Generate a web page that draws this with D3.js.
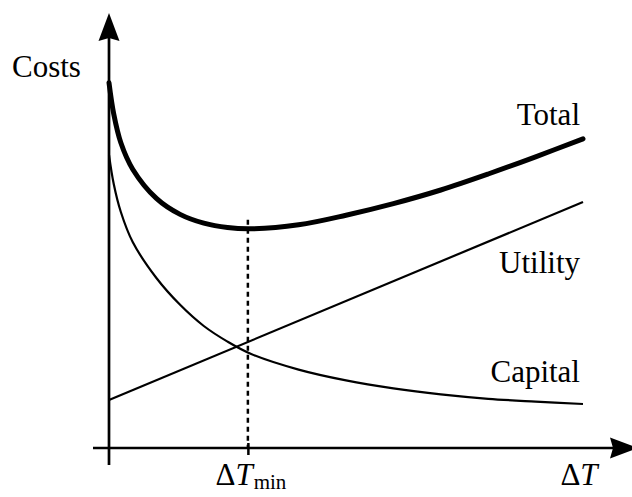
<!DOCTYPE html>
<html>
<head>
<meta charset="utf-8">
<script src="https://cdn.jsdelivr.net/npm/d3@7/dist/d3.min.js"></script>
<style>
  html, body { margin: 0; padding: 0; background: #fff; }
  svg { display: block; }
  text { font-family: "Liberation Serif", "Times New Roman", serif; fill: #000; }
</style>
</head>
<body>
<svg id="chart" width="632" height="497"></svg>
<script>
// Temperature approach (arbitrary units) and the cost curves over it
const deltaT = [0, 0.1, 0.25, 0.5, 1, 1.5, 2, 2.5, 3, 4, 5, 6, 7, 8, 9, 10];
const capitalCost = [7.33, 6.6, 5.9, 5.15, 4.25, 3.58, 3.05, 2.66, 2.35, 1.96, 1.69, 1.49, 1.34, 1.23, 1.16, 1.10];
const totalCost = [9.13, 8.35, 7.63, 6.97, 6.24, 5.84, 5.62, 5.51, 5.48, 5.58, 5.82, 6.11, 6.45, 6.85, 7.28, 7.73];
const utilityT = [0, 10];
const utilityCost = [1.2, 6.15];
const deltaTmin = 2.93;

const seriesLabels = ["Total", "Utility", "Capital"];
const yAxisLabel = "Costs";

const svg = d3.select("#chart");
const W = 632;

const x = d3.scaleLinear().domain([0, 10]).range([109, 583]);
const y = d3.scaleLinear().domain([0, 10]).range([448, 48]);

const x0 = x(0), y0 = y(0);

// Arrowhead shape: tip at origin pointing to +x, slightly hollow back
function arrowPath(len, half, notch) {
  return `M0,0 L${-len},${-half} L${-len + notch},0 L${-len},${half} Z`;
}

// Axes
const axes = svg.append("g");
axes.append("line")
  .attr("x1", x0 - 16).attr("x2", W + 2)
  .attr("y1", y0).attr("y2", y0)
  .attr("stroke", "#000").attr("stroke-width", 2.7);
axes.append("path")
  .attr("d", arrowPath(28, 10.5, 3))
  .attr("transform", `translate(${W + 6},${y0})`)
  .attr("fill", "#000");

axes.append("line")
  .attr("x1", x0).attr("x2", x0)
  .attr("y1", y0 + 17).attr("y2", 20)
  .attr("stroke", "#000").attr("stroke-width", 2.7);
axes.append("path")
  .attr("d", arrowPath(28, 10.5, 3))
  .attr("transform", `translate(${x0},13) rotate(-90)`)
  .attr("fill", "#000");

// ΔTmin tick via a bottom axis with a single tick value
const xAxis = d3.axisBottom(x)
  .tickValues([deltaTmin])
  .tickSizeInner(7)
  .tickSizeOuter(0)
  .tickFormat("");
const gx = svg.append("g")
  .attr("transform", `translate(0,${y0})`)
  .call(xAxis);
gx.select(".domain").remove();
gx.selectAll(".tick line")
  .attr("y1", -5)
  .attr("stroke", "#000")
  .attr("stroke-width", 2.5);

// Dotted guide from the minimum of the total curve down to the axis
const totalAtMin = d3.min(totalCost);
svg.append("line")
  .attr("x1", x(deltaTmin)).attr("x2", x(deltaTmin))
  .attr("y1", y(totalAtMin) - 9).attr("y2", y0)
  .attr("stroke", "#000")
  .attr("stroke-width", 2.5)
  .attr("stroke-dasharray", "5,4");

// Curves
const line = d3.line()
  .x(d => x(d[0]))
  .y(d => y(d[1]));

svg.append("path")
  .datum(d3.zip(utilityT, utilityCost))
  .attr("d", line.curve(d3.curveLinear))
  .attr("fill", "none").attr("stroke", "#000").attr("stroke-width", 2.2);

svg.append("path")
  .datum(d3.zip(deltaT, capitalCost))
  .attr("d", line.curve(d3.curveCatmullRom.alpha(0.5)))
  .attr("fill", "none").attr("stroke", "#000").attr("stroke-width", 2.2);

svg.append("path")
  .datum(d3.zip(deltaT, totalCost))
  .attr("d", line.curve(d3.curveCatmullRom.alpha(0.5)))
  .attr("fill", "none").attr("stroke", "#000").attr("stroke-width", 5)
  .attr("stroke-linecap", "round");

// Labels
const fs = 31;
svg.append("text")
  .attr("x", 12).attr("y", 77)
  .attr("font-size", fs)
  .text(yAxisLabel);

// Series names sit near the right end of each curve (pixel offsets from the end point)
const seriesEnds = [totalCost[totalCost.length - 1], utilityCost[utilityCost.length - 1], capitalCost[capitalCost.length - 1]];
const labelShift = [-14, 71, -22];
svg.selectAll("text.series")
  .data(seriesLabels)
  .join("text")
  .attr("class", "series")
  .attr("x", x(10) - 3)
  .attr("y", (d, i) => y(seriesEnds[i]) + labelShift[i])
  .attr("text-anchor", "end")
  .attr("font-size", fs)
  .text(d => d);

// ΔTmin label under the tick
const tmin = svg.append("text")
  .attr("x", x(deltaTmin) + 3).attr("y", 485)
  .attr("text-anchor", "middle")
  .attr("font-size", fs);
tmin.append("tspan").text("Δ");
tmin.append("tspan").attr("font-style", "italic").text("T");
tmin.append("tspan").attr("font-size", 21).attr("dy", 4).attr("dx", 1).text("min");

// ΔT axis title at the end of the x axis
const dt = svg.append("text")
  .attr("x", x(10) - 4).attr("y", 485)
  .attr("text-anchor", "middle")
  .attr("font-size", fs);
dt.append("tspan").text("Δ");
dt.append("tspan").attr("font-style", "italic").text("T");
</script>
</body>
</html>
